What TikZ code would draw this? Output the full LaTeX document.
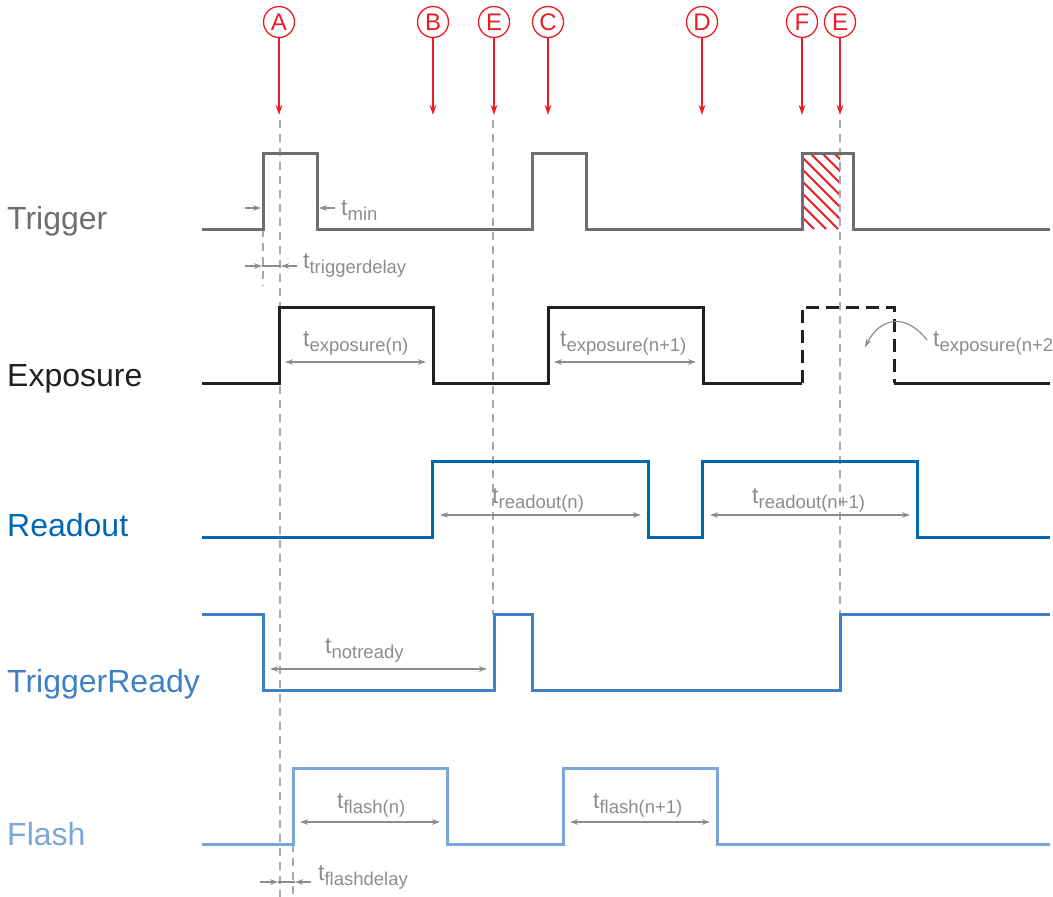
\documentclass[tikz,border=0pt]{standalone}
\usepackage{fontspec}
\setmainfont{Liberation Sans}
\usetikzlibrary{arrows.meta}
\definecolor{trigc}{HTML}{6D6E71}
\definecolor{expoc}{HTML}{231F20}
\definecolor{rdoutc}{HTML}{0068B3}
\definecolor{trdyc}{HTML}{3F80C6}
\definecolor{flshc}{HTML}{7BA6DA}
\definecolor{annoc}{HTML}{8C8C8C}
\definecolor{guidec}{HTML}{A7A9AC}
\definecolor{evtred}{HTML}{EC1C24}
\newcommand{\tsub}[1]{{\fontsize{23}{23}\selectfont t}\raisebox{-5pt}{\fontsize{18.5}{18.5}\selectfont #1}}
\tikzset{
  sig/.style={line width=3pt, line join=miter},
  guideline/.style={draw=guidec, line width=1.2pt, dash pattern=on 8pt off 6pt},
  dim/.style={draw=annoc, line width=1.2pt, {Stealth[length=8pt,width=5.5pt]}-{Stealth[length=8pt,width=5.5pt]}},
  dimone/.style={draw=annoc, line width=1.2pt, -{Stealth[length=8pt,width=5.5pt]}},
  annot/.style={text=annoc, anchor=base west, inner sep=0pt},
  siglabel/.style={anchor=base west, inner sep=0pt, font=\fontsize{32}{32}\selectfont},
  evt/.style={circle, draw=evtred, text=evtred, line width=1.3pt, minimum size=31pt, inner sep=0pt, font=\fontsize{24}{24}\selectfont},
  evtarrow/.style={draw=evtred, fill=evtred, line width=1.5pt, -{Stealth[length=10pt,width=6.5pt]}},
  hatch/.style={draw=evtred, line width=2pt}
}
\begin{document}
\begin{tikzpicture}[x=1pt,y=-1pt]
\useasboundingbox (0,0) rectangle (1053,897);

% event markers
\foreach \n/\l/\x in {a/A/279, b/B/433, e1/E/494, c/C/548, d/D/702, f/F/802, e2/E/840}{
  \node[evt] (\n) at (\x,22) {\l};
  \coordinate (\n t) at (\x,115);
  \draw[evtarrow] (\n) -- (\n t);
}

% hatched region
\begin{scope}
  \clip (802,153) rectangle (840,229);
  \foreach \x in {714,726,...,846}{
    \draw[hatch] (\x,153) -- ++(76,76);
  }
\end{scope}

% guide lines
\draw[guideline] (280,120) -- (280,897);
\draw[guideline] (493,120) -- (493,614);
\draw[guideline] (840,120) -- (840,614);
\draw[guideline] (263,229) -- (263,286);
\draw[guideline] (293,844) -- (293,896);

% signal labels
\node[siglabel, text=trigc] (ltrig) at (7,229) {Trigger};
\node[siglabel, text=expoc] (lexpo) at (7,386) {Exposure};
\node[siglabel, text=rdoutc] (lread) at (7,536) {Readout};
\node[siglabel, text=trdyc] (lrdy) at (7,692) {TriggerReady};
\node[siglabel, text=flshc] (lflash) at (7,845) {Flash};

% Trigger
\draw[sig, draw=trigc] (202,229) -- (263,229) -- (263,153) -- (317,153) -- (317,229)
  -- (532,229) -- (532,153) -- (586,153) -- (586,229)
  -- (802,229) -- (802,153) -- (853,153) -- (853,229) -- (1050,229);

% Exposure
\draw[sig, draw=expoc] (202,383) -- (279,383) -- (279,307) -- (433,307) -- (433,383)
  -- (548,383) -- (548,307) -- (703,307) -- (703,383) -- (802,383);
\draw[sig, draw=expoc, dash pattern=on 13pt off 7pt] (802,383) -- (802,307) -- (894,307) -- (894,383);
\draw[sig, draw=expoc] (894,383) -- (1050,383);

% Readout
\draw[sig, draw=rdoutc] (202,537) -- (432,537) -- (432,461) -- (648,461) -- (648,537)
  -- (702,537) -- (702,461) -- (917,461) -- (917,537) -- (1050,537);

% TriggerReady
\draw[sig, draw=trdyc] (202,614) -- (263,614) -- (263,690) -- (494,690) -- (494,614)
  -- (532,614) -- (532,690) -- (840,690) -- (840,614) -- (1050,614);

% Flash
\draw[sig, draw=flshc] (202,844) -- (293,844) -- (293,768) -- (447,768) -- (447,844)
  -- (563,844) -- (563,768) -- (717,768) -- (717,844) -- (1050,844);

% Trigger annotations
\coordinate (tm1) at (245,208); \coordinate (tm2) at (261,208);
\coordinate (tm3) at (335,208); \coordinate (tm4) at (319,208);
\draw[dimone] (tm1) -- (tm2);
\draw[dimone] (tm3) -- (tm4);
\node[annot] (tmin) at (341,215) {\tsub{min}};

\coordinate (td1) at (245,266); \coordinate (td2) at (262,266);
\coordinate (td3) at (297,266); \coordinate (td4) at (281,266);
\draw[dimone] (td1) -- (td2);
\draw[draw=annoc, line width=1.2pt] (td2) -- (td4);
\draw[dimone] (td3) -- (td4);
\node[annot] (tdel) at (303,268) {\tsub{triggerdelay}};

% Exposure annotations
\coordinate (ex1) at (285,362); \coordinate (ex2) at (426,362);
\draw[dim] (ex1) -- (ex2);
\node[annot] (texn) at (303,346) {\tsub{exposure(n)}};
\coordinate (ex3) at (554,362); \coordinate (ex4) at (696,362);
\draw[dim] (ex3) -- (ex4);
\node[annot] (texn1) at (560,346) {\tsub{exposure(n+1)}};
\node[annot] (texn2) at (933,346) {\tsub{exposure(n+2)}};
\coordinate (cv1) at (927,340); \coordinate (cv2) at (865,347);
\draw[dimone] (cv1) .. controls (905,312) and (880,318) .. (cv2);

% Readout annotations
\coordinate (ro1) at (440,515); \coordinate (ro2) at (641,515);
\draw[dim] (ro1) -- (ro2);
\node[annot] (tron) at (492,503) {\tsub{readout(n)}};
\coordinate (ro3) at (710,515); \coordinate (ro4) at (910,515);
\draw[dim] (ro3) -- (ro4);
\node[annot] (tron1) at (752,503) {\tsub{readout(n+1)}};

% TriggerReady annotation
\coordinate (nr1) at (270,669); \coordinate (nr2) at (487,669);
\draw[dim] (nr1) -- (nr2);
\node[annot] (tnr) at (325,653) {\tsub{notready}};

% Flash annotations
\coordinate (fl1) at (300,822); \coordinate (fl2) at (440,822);
\draw[dim] (fl1) -- (fl2);
\node[annot] (tfn) at (337,808) {\tsub{flash(n)}};
\coordinate (fl3) at (570,822); \coordinate (fl4) at (710,822);
\draw[dim] (fl3) -- (fl4);
\node[annot] (tfn1) at (593,808) {\tsub{flash(n+1)}};

\coordinate (fd1) at (260,882); \coordinate (fd2) at (278,882);
\coordinate (fd3) at (311,882); \coordinate (fd4) at (295,882);
\draw[dimone] (fd1) -- (fd2);
\draw[draw=annoc, line width=1.2pt] (fd2) -- (fd4);
\draw[dimone] (fd3) -- (fd4);
\node[annot] (tfd) at (318,880) {\tsub{flashdelay}};
\end{tikzpicture}
\end{document}
